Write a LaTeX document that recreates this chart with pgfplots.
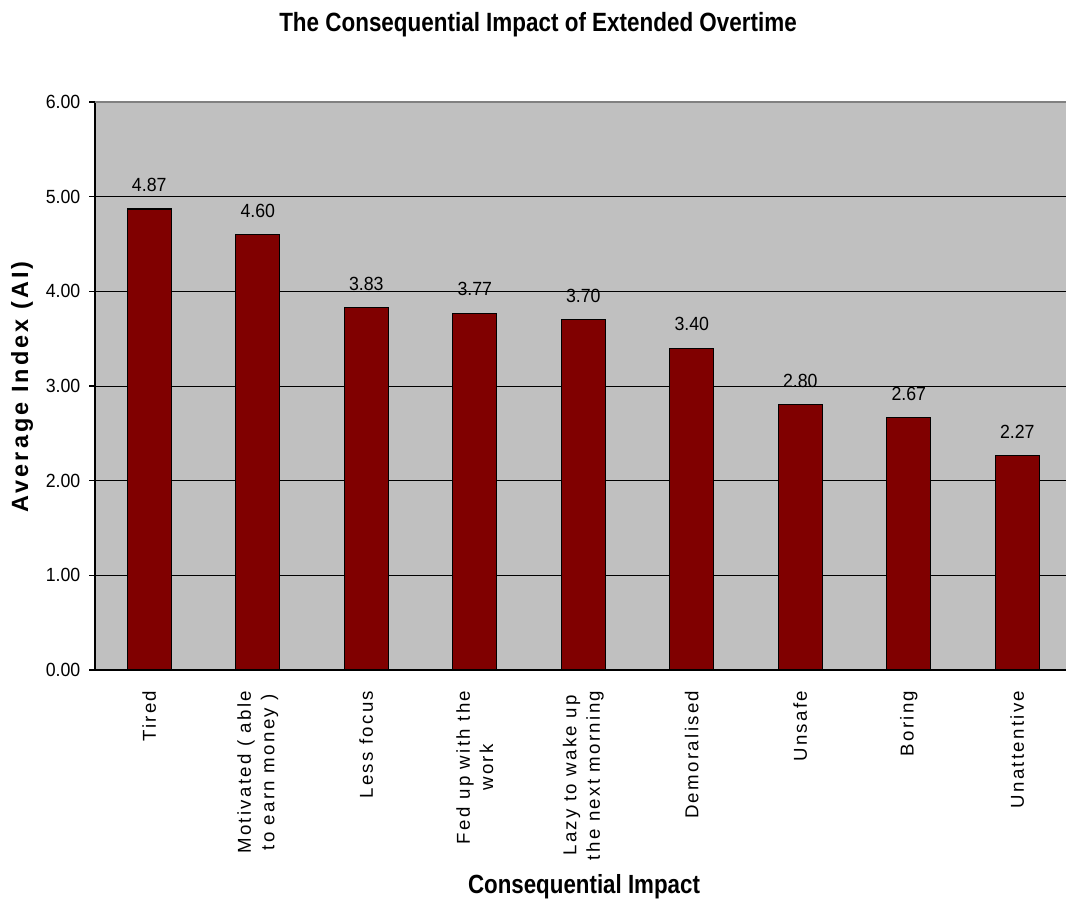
\documentclass[border=0pt]{standalone}
\usepackage{fontspec}
\usepackage{pgfplots}
\pgfplotsset{compat=1.18}
\setmainfont{Liberation Sans}
\newfontfamily\narrowfont[FakeStretch=0.93]{Liberation Sans}
\newfontfamily\titlefont[FakeStretch=0.85]{Liberation Sans}
\newfontfamily\spacedfont[LetterSpace=12.5]{Liberation Sans}
\newfontfamily\spacedbold[LetterSpace=13]{Liberation Sans Bold}
\definecolor{barred}{HTML}{800000}
\definecolor{plotbg}{HTML}{C0C0C0}
\begin{document}
\begin{tikzpicture}[x=1pt,y=1pt]
\path[use as bounding box] (0,0) rectangle (800.25,680.25);
\begin{axis}[
  at={(71.25pt,177.75pt)}, anchor=south west,
  scale only axis, width=728.25pt, height=426pt,
  xmin=-0.5, xmax=8.449, ymin=0, ymax=6,
  axis background/.style={fill=plotbg},
  axis x line*=bottom, axis y line*=left,
  axis line style={black, line width=0.8pt},
  tick align=outside,
  ytick={0,1,2,3,4,5,6},
  ymajorgrids, grid style={black, line width=0.6pt},
  major tick length=4.5pt,
  ytick style={black, line width=0.8pt},
  yticklabel={\pgfmathprintnumber[fixed,fixed zerofill,precision=2]{\tick}},
  yticklabel style={font=\narrowfont\fontsize{14.3}{16}\selectfont},
  yticklabel shift=3pt,
  /pgf/number format/assume math mode=true,
  xtick={0,...,8},
  xtick style={draw=none},
  minor xtick={-0.5,0.5,...,8.5},
  minor tick length=4.5pt,
  minor x tick style={black, line width=0.8pt},
  xticklabels={Tired, Motivated ( able\\to earn money ), Less focus, Fed up with the\\work, Lazy to wake up\\the next morning, Demoralised, Unsafe, Boring, Unattentive},
  xticklabel style={rotate=90, anchor=east, align=center, font=\spacedfont\fontsize{14}{17.5}\selectfont},
  xticklabel shift=7.5pt,
  ybar, bar width=33pt,
  nodes near coords={\pgfmathprintnumber[fixed,fixed zerofill,precision=2]{\pgfplotspointmeta}},
  nodes near coords style={font=\narrowfont\fontsize{14.3}{16}\selectfont, anchor=south, yshift=9pt},
  clip=false,
  after end axis/.code={\draw[gray, line width=1pt] (rel axis cs:0,1) -- (rel axis cs:1,1);},
]
\addplot[fill=barred, draw=black, line width=0.8pt] coordinates {
  (0,4.87) (1,4.60) (2,3.83) (3,3.77) (4,3.70) (5,3.40) (6,2.80) (7,2.67) (8,2.27)};
\end{axis}
\node[font=\titlefont\bfseries\fontsize{19.8}{22}\selectfont] at (403.5,661.5) {The Consequential Impact of Extended Overtime};
\node[font=\titlefont\bfseries\fontsize{19.7}{22}\selectfont] at (438,15) {Consequential Impact};
\node[rotate=90, font=\spacedbold\fontsize{17.6}{20}\selectfont] at (16.5,390) {Average Index (AI)};
\end{tikzpicture}
\end{document}
